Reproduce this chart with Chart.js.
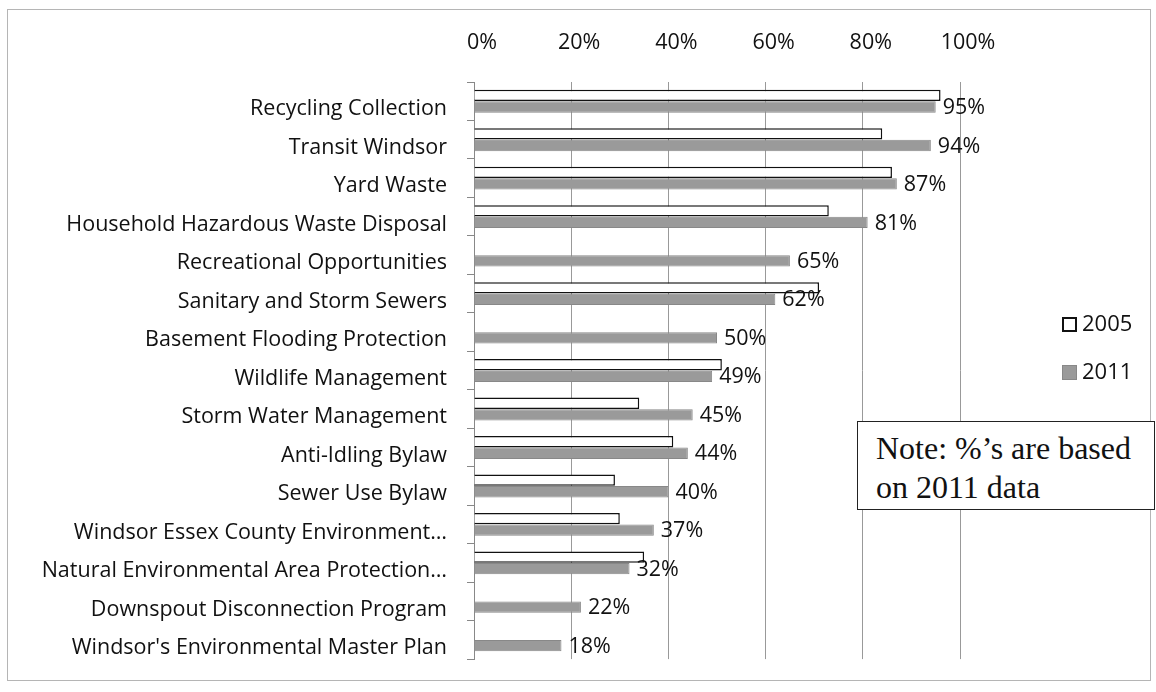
<!DOCTYPE html>
<html>
<head>
<meta charset="utf-8">
<script src="https://cdn.jsdelivr.net/npm/chart.js@4.4.1/dist/chart.umd.min.js"></script>
<style>
  html, body { margin: 0; padding: 0; background: #fff; }
  #wrap { position: relative; width: 1156px; height: 692px; }
  #frame { position: absolute; left: 7px; top: 9px; width: 1142px; height: 670px; border: 1px solid #b5b5b5; }
  canvas { position: absolute; left: 0; top: 0; }
  .legend { position: absolute; left: 1062px; font: 22px "Open Sans", sans-serif; color: #111; line-height: 26px; }
  .legend span { display: inline-block; width: 15px; height: 15px; margin-right: 5px; box-sizing: border-box; vertical-align: -1px; }
  #note { position: absolute; left: 857px; top: 421px; width: 298px; height: 89px; border: 1.5px solid #222; background: #fff;
          font: 32px "Liberation Serif", serif; line-height: 39px; color: #111; padding: 7px 0 0 18px; box-sizing: border-box; white-space: nowrap; }
</style>
</head>
<body>
<div id="wrap">
  <div id="frame"></div>
  <canvas id="chart" width="1156" height="692"></canvas>
  <div class="legend" style="top:309px"><span style="border:2px solid #111;background:#fff"></span>2005</div>
  <div class="legend" style="top:357px"><span style="background:#9a9a9a;border:1px solid #888"></span>2011</div>
  <div id="note">Note: %’s are based<br>on 2011 data</div>
</div>
<script>
const categories = [
  'Recycling Collection',
  'Transit Windsor',
  'Yard Waste',
  'Household Hazardous Waste Disposal',
  'Recreational Opportunities',
  'Sanitary and Storm Sewers',
  'Basement Flooding Protection',
  'Wildlife Management',
  'Storm Water Management',
  'Anti-Idling Bylaw',
  'Sewer Use Bylaw',
  'Windsor Essex County Environment…',
  'Natural Environmental Area Protection…',
  'Downspout Disconnection Program',
  "Windsor's Environmental Master Plan"
]
const values2005 = [96, 84, 86, 73, null, 71, null, 51, 34, 41, 29, 30, 35, null, null]
const values2011 = [95, 94, 87, 81, 65, 62, 50, 49, 45, 44, 40, 37, 32, 22, 18]
const xTicks = [0, 20, 40, 60, 80, 100]

const font = { family: '"Open Sans", sans-serif', size: 21.5 }

// draws the 2011 percentages to the right of the grey bars
const valueLabels = {
  id: 'valueLabels',
  afterDatasetsDraw: (chart) => {
    const ctx = chart.ctx
    const meta = chart.getDatasetMeta(1)
    ctx.save()
    ctx.font = '21.5px "Open Sans", sans-serif'
    ctx.fillStyle = '#111'
    ctx.textBaseline = 'middle'
    meta.data.forEach((bar, i) => {
      ctx.fillText(values2011[i] + '%', bar.x + 7, bar.y + 1)
    })
    ctx.restore()
  }
}

const chart = new Chart(document.getElementById('chart'), {
  type: 'bar',
  data: {
    labels: categories,
    datasets: [
      {
        label: '2005',
        data: values2005,
        backgroundColor: '#ffffff',
        borderColor: '#111111',
        borderWidth: 1.5,
        categoryPercentage: 0.6,
        barPercentage: 0.98
      },
      {
        label: '2011',
        data: values2011,
        backgroundColor: '#9a9a9a',
        borderColor: '#888888',
        borderWidth: 1,
        categoryPercentage: 0.6,
        barPercentage: 0.98
      }
    ]
  },
  options: {
    indexAxis: 'y',
    responsive: false,
    animation: false,
    layout: { padding: { left: 0, right: 196, top: 20, bottom: 22 } },
    plugins: {
      legend: { display: false },
      tooltip: { enabled: false }
    },
    scales: {
      x: {
        position: 'top',
        min: 0,
        max: 100,
        afterBuildTicks: (scale) => { scale.ticks = xTicks.map(v => ({ value: v })) },
        afterFit: (scale) => { scale.height = 62 },
        ticks: {
          callback: (v) => v + '%',
          font: font,
          color: '#111',
          padding: 26,
          labelOffset: 8
        },
        grid: { color: '#999999', lineWidth: 1, drawTicks: false },
        border: { display: false }
      },
      y: {
        afterFit: (scale) => { scale.width = 474 },
        ticks: { font: font, color: '#111', padding: 20, autoSkip: false, labelOffset: 8 },
        grid: { drawOnChartArea: false, tickLength: 7, color: '#888888' },
        border: { display: true, color: '#888888', width: 1 }
      }
    }
  },
  plugins: [valueLabels]
})
</script>
</body>
</html>
